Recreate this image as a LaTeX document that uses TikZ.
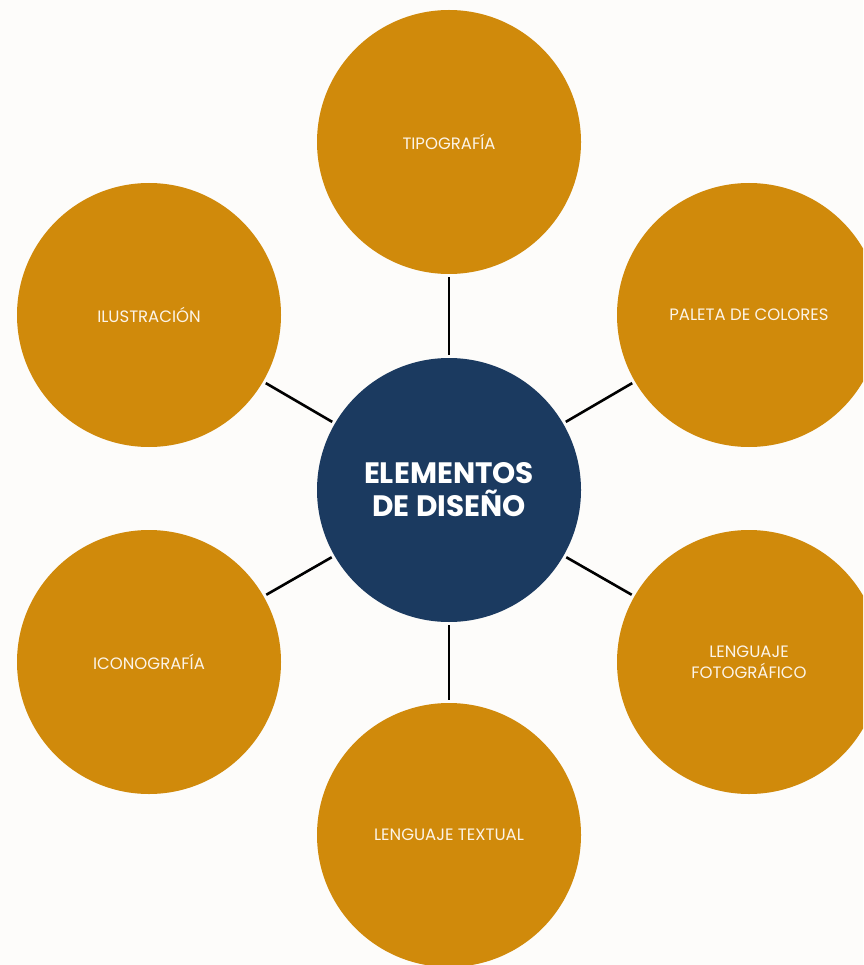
\documentclass[tikz,border=0pt]{standalone}
\usepackage{fontspec}
\setmainfont{Poppins}
\definecolor{bgc}{HTML}{FDFCFA}
\definecolor{gold}{HTML}{D08A0B}
\definecolor{navy}{HTML}{1B3A60}
\definecolor{cream}{HTML}{FCF4E8}
\tikzset{
  petal/.style={circle, fill=gold, minimum size=264pt, inner sep=0pt, align=center,
    text=cream, font=\fontsize{16.5}{21}\selectfont},
  hub/.style={circle, fill=navy, minimum size=264pt, inner sep=0pt, align=center,
    text=white, font=\fontsize{29.5}{33}\selectfont\bfseries},
  link/.style={line width=2.6pt, black, shorten >=3pt, shorten <=3pt}
}
\begin{document}
\begin{tikzpicture}[x=1pt,y=-1pt]
\fill[bgc] (0,0) rectangle (863,965);
\useasboundingbox (0,0) rectangle (863,965);
\clip (0,0) rectangle (863,965);
\node[hub] (c) at (449,490) {ELEMENTOS\\DE DISEÑO};
\node[petal] (t) at (449,142) {TIPOGRAFÍA};
\node[petal] (il) at (149,315) {ILUSTRACIÓN};
\node[petal] (pc) at (749,315) {PALETA DE COLORES};
\node[petal] (ic) at (149,662) {ICONOGRAFÍA};
\node[petal] (lf) at (749,662) {LENGUAJE\\FOTOGRÁFICO};
\node[petal] (lt) at (449,835) {LENGUAJE TEXTUAL};
\foreach \n in {t,il,pc,ic,lf,lt} \draw[link] (c) -- (\n);
\end{tikzpicture}
\end{document}
